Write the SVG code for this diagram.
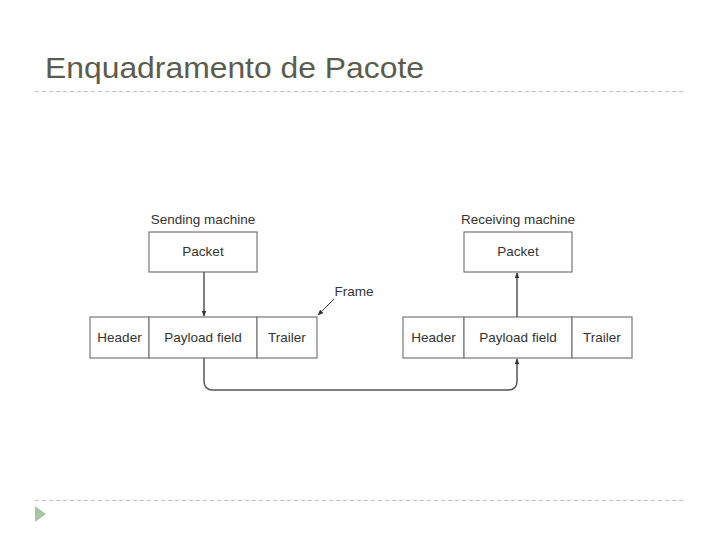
<svg xmlns="http://www.w3.org/2000/svg" width="720" height="540" viewBox="0 0 720 540">
<style>
.title{font-family:"Liberation Sans",Arial,sans-serif;font-size:29px;fill:#5c5c4e}
.sep{stroke:#c4c4c4;stroke-width:1;stroke-dasharray:4 3;fill:none}
.box{fill:#fff;stroke:#777;stroke-width:1.2}
.lbl{font-family:"Liberation Sans",Arial,sans-serif;font-size:13.5px;fill:#333;text-anchor:middle}
.conn{fill:none;stroke:#555;stroke-width:1.5}
</style>
<defs>
<marker id="ah" viewBox="0 0 10 10" refX="9" refY="5" markerWidth="6" markerHeight="6" orient="auto" markerUnits="userSpaceOnUse">
<path d="M0,1 L10,5 L0,9 Z" fill="#333"/>
</marker>
</defs>
<rect width="720" height="540" fill="#fff"/>
<text class="title" x="45" y="78" textLength="379" lengthAdjust="spacingAndGlyphs">Enquadramento de Pacote</text>
<line class="sep" x1="35" y1="91.5" x2="686" y2="91.5"/>
<line class="sep" x1="35" y1="500.5" x2="686" y2="500.5"/>
<path d="M35,506 L46,514 L35,522 Z" fill="#a9c6a3"/>

<g id="send">
<text class="lbl" x="203" y="224">Sending machine</text>
<rect class="box" x="149" y="232" width="108" height="40"/>
<text class="lbl" x="203" y="256">Packet</text>
</g>
<g id="recv">
<text class="lbl" x="518" y="224">Receiving machine</text>
<rect class="box" x="464" y="232" width="108" height="40"/>
<text class="lbl" x="518" y="256">Packet</text>
</g>
<g id="frame-left">
<rect class="box" x="90" y="317" width="59" height="41"/>
<rect class="box" x="149" y="317" width="108" height="41"/>
<rect class="box" x="257" y="317" width="60" height="41"/>
<text class="lbl" x="119.500" y="342">Header</text>
<text class="lbl" x="203" y="342">Payload field</text>
<text class="lbl" x="287" y="342">Trailer</text>
</g>
<g id="frame-right">
<rect class="box" x="403" y="317" width="61" height="41"/>
<rect class="box" x="464" y="317" width="108" height="41"/>
<rect class="box" x="572" y="317" width="60" height="41"/>
<text class="lbl" x="433.500" y="342">Header</text>
<text class="lbl" x="518" y="342">Payload field</text>
<text class="lbl" x="602" y="342">Trailer</text>
</g>
<g id="frame-label">
<text class="lbl" x="354" y="296">Frame</text>
</g>
<g id="connectors">
<line class="conn" x1="204" y1="272" x2="204" y2="316" marker-end="url(#ah)"/>
<line class="conn" x1="517" y1="317" x2="517" y2="273" marker-end="url(#ah)"/>
<path class="conn" d="M204,358 L204,381 Q204,390 213,390 L508,390 Q517,390 517,381 L517,359" marker-end="url(#ah)"/>
<line x1="334" y1="299" x2="318" y2="315" stroke="#333" stroke-width="1" marker-end="url(#ah)"/>
</g>
</svg>
